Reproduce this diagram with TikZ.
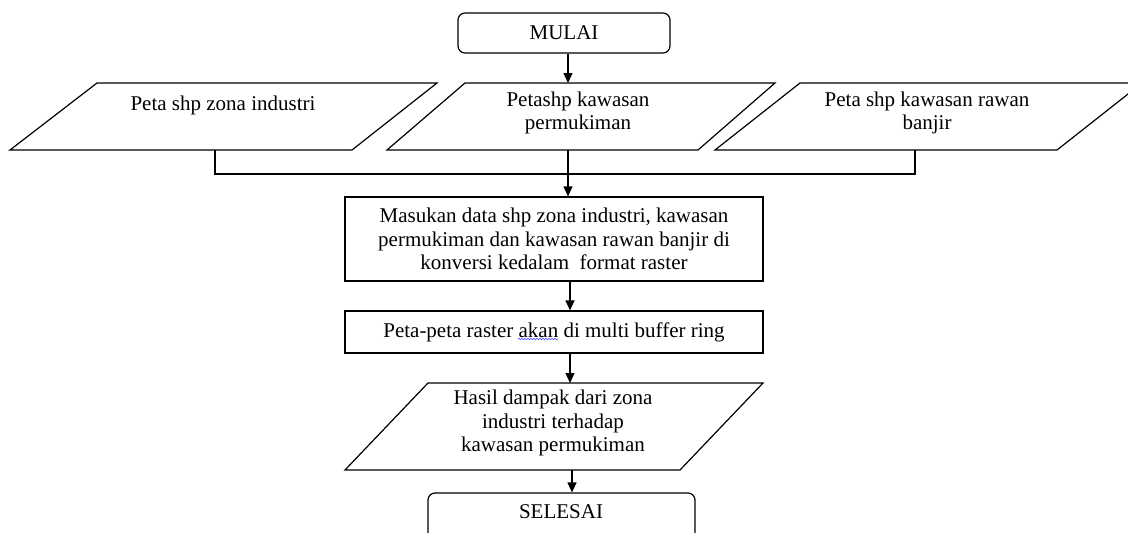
\documentclass[tikz,border=0pt]{standalone}
\usepackage{fontspec}
\setmainfont{Liberation Serif}
\usetikzlibrary{arrows.meta,decorations.pathmorphing}
\begin{document}
\begin{tikzpicture}[x=1pt,y=-1pt,line width=1.2pt,
  lbl/.style={font=\fontsize{21}{23.5}\selectfont,align=center,inner sep=0pt},
  procbox/.style={draw,inner sep=0pt,lbl},
  termbox/.style={draw,rounded corners=7pt,inner sep=0pt,lbl},
  arr/.style={-{Triangle[length=10pt,width=9pt]}}]
\useasboundingbox (0,0) rectangle (1128,533);
\clip (0,0) rectangle (1128,533);
% start
\node[termbox,minimum width=212pt,minimum height=40pt] (mulai) at (564,33) {MULAI};
% input parallelograms
\draw (97,83) -- (437,83) -- (352,150) -- (10,150) -- cycle;
\node[lbl] (p1) at (223,105) {Peta shp zona industri};
\draw (465,83) -- (775,83) -- (698,150) -- (387,150) -- cycle;
\node[lbl] (p2) at (578,113) {Petashp kawasan\\permukiman};
\draw (800,83) -- (1142,83) -- (1057,150) -- (715,150) -- cycle;
\node[lbl] (p3) at (927,113) {Peta shp kawasan rawan\\banjir};
% process boxes
\node[procbox,minimum width=418pt,minimum height=84pt] (b1) at (554,239)
  {Masukan data shp zona industri, kawasan\\permukiman dan kawasan rawan banjir di\\konversi kedalam~ format raster};
\node[procbox,minimum width=418pt,minimum height=42pt] (b2) at (554,332)
  {Peta-peta raster akan di multi buffer ring};
\draw[blue!70,line width=0.6pt,decorate,decoration={snake,amplitude=0.8pt,segment length=3pt}] (518,339) -- (558,339);
% output parallelogram
\draw (428,383) -- (763,383) -- (680,470) -- (345,470) -- cycle;
\node[lbl] (p4) at (553,423) {Hasil dampak dari zona\\industri terhadap\\kawasan permukiman};
% end
\node[draw,rounded corners=7pt,minimum width=267pt,minimum height=60pt,inner sep=0pt] (sel) at (561.5,523) {};
\node[lbl] (seltext) at (561,512) {SELESAI};
% connectors
\coordinate (c1) at (568,83);
\draw[arr] (mulai.south -| c1) -- (c1);
\coordinate (p1b) at (215,150);
\coordinate (p2b) at (568,150);
\coordinate (p3b) at (915,150);
\coordinate (j) at (568,174);
\draw (p1b) |- (j) -| (p3b);
\draw[arr] (p2b) -- (p2b |- b1.north);
\coordinate (b1out) at (570,281);
\draw[arr] (b1.south -| b1out) -- (b1out |- b2.north);
\coordinate (p4t) at (570,383);
\draw[arr] (b2.south -| p4t) -- (p4t);
\coordinate (p4b) at (572,470);
\draw[arr] (p4b) -- (p4b |- sel.north);
\end{tikzpicture}
\end{document}
